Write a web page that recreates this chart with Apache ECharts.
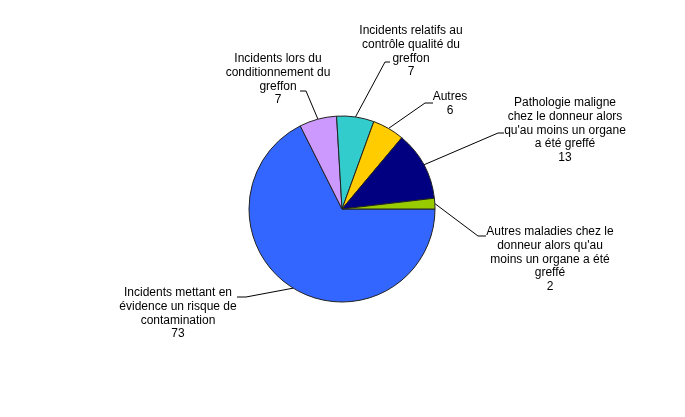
<!DOCTYPE html>
<html>
<head>
<meta charset="utf-8">
<script src="https://cdn.jsdelivr.net/npm/echarts@6/dist/echarts.min.js"></script>
<style>
    html, body { margin: 0; padding: 0; background: #fff; }
    #main { width: 685px; height: 417px; }
</style>
</head>
<body>
<div id="main"></div>
<script>
// categories, in drawing order (clockwise from 3 o'clock)
var categories = [
    'Incidents mettant en\névidence un risque de\ncontamination',
    'Incidents lors du\nconditionnement du\ngreffon',
    'Incidents relatifs au\ncontrôle qualité du\ngreffon',
    'Autres',
    'Pathologie maligne\nchez le donneur alors\nqu\'au moins un organe\na été greffé',
    'Autres maladies chez le\ndonneur alors qu\'au\nmoins un organe a été\ngreffé'
];
var values = [73, 7, 7, 6, 13, 2];
var colors = ['#3366FF', '#CC99FF', '#33CCCC', '#FFCC00', '#000080', '#99CC00'];

// label placement: [text centre x, text top y, elbow x, elbow y, end x]
var labelPos = [
    [178, 286, 246, 297, 237],
    [278, 52, 306, 91, 300],
    [411, 24, 385, 62, 390],
    [450, 90, 425, 103, 433],
    [565, 96, 498, 133, 504],
    [550, 225, 478, 236, 486]
];

function main() {
    var myChart = echarts.init(document.getElementById('main'), null, {renderer: 'canvas'});

    var data = [];
    for (var i = 0; i < values.length; i++) {
        data.push({value: values[i], name: categories[i], itemStyle: {color: colors[i]}});
    }

    var option = {
        backgroundColor: '#ffffff',
        animation: false,
        series: [{
            type: 'pie',
            center: [342, 209],
            radius: 93,
            startAngle: 0,
            clockwise: true,
            avoidLabelOverlap: false,
            data: data,
            itemStyle: {
                borderColor: '#222',
                borderWidth: 1
            },
            label: {
                show: true,
                position: 'outside',
                formatter: '{b}\n{c}',
                color: '#000',
                fontFamily: 'Liberation Sans, Arial, sans-serif',
                fontSize: 12,
                lineHeight: 13.7,
                align: 'center'
            },
            labelLine: {
                show: true,
                length: 20,
                length2: 10,
                lineStyle: {color: '#000', width: 1}
            },
            labelLayout: function (params) {
                var p = labelPos[params.dataIndex];
                var start = params.labelLinePoints ? params.labelLinePoints[0] : [p[2], p[3]];
                return {
                    x: p[0],
                    y: p[1],
                    align: 'center',
                    verticalAlign: 'top',
                    labelLinePoints: [start, [p[2], p[3]], [p[4], p[3]]]
                };
            },
            emphasis: {disabled: true}
        }]
    };

    myChart.setOption(option);
}

main();
</script>
</body>
</html>
